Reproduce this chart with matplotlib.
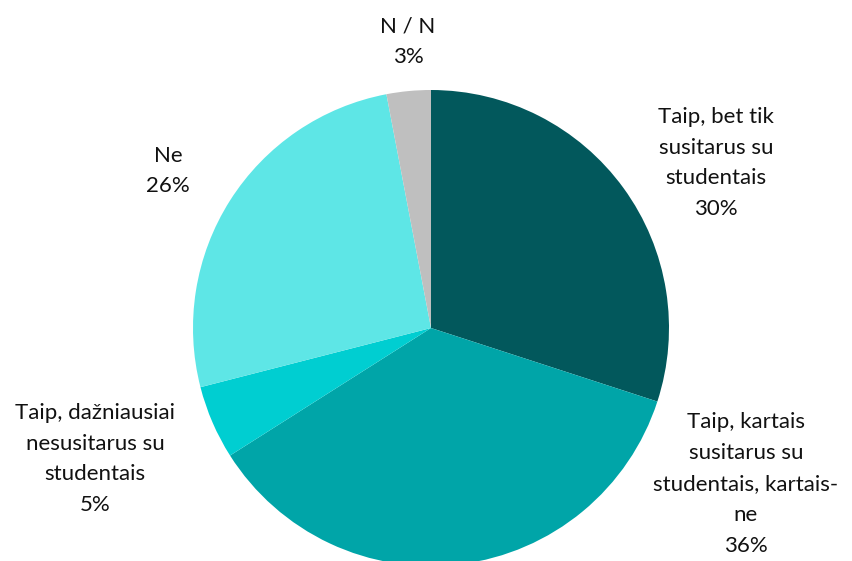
import matplotlib
matplotlib.use("Agg")
import matplotlib.pyplot as plt

# data
categories = [
    "Taip, bet tik\nsusitarus su\nstudentais",
    "Taip, kartais\nsusitarus su\nstudentais, kartais-\nne",
    "Taip, dažniausiai\nnesusitarus su\nstudentais",
    "Ne",
    "N / N",
]
values = [30, 36, 5, 26, 3]
colors = ["#02585C", "#00A5A8", "#00CED1", "#5EE6E6", "#BFBFBF"]

# label centres in pixel coords (x from left, y from top)
label_pos = [(716, 163), (746, 484), (95, 459), (168, 171), (408, 42)]

W, H = 853, 561
fig = plt.figure(figsize=(W / 100, H / 100), dpi=100)
ax = fig.add_axes([0, 0, 1, 1])

ax.pie(values, colors=colors, startangle=90, counterclock=False,
       center=(431, H - 328), radius=238, frame=True,
       wedgeprops=dict(linewidth=0))
ax.set_xlim(0, W)
ax.set_ylim(0, H)
ax.set_aspect("equal")
ax.axis("off")

for cat, v, (x, y) in zip(categories, values, label_pos):
    ax.text(x, H - y, f"{cat}\n{v}%", ha="center", va="center",
            fontsize=16, family="Lato", color="#111111", linespacing=1.68)

plt.savefig("out.png", dpi=100)
